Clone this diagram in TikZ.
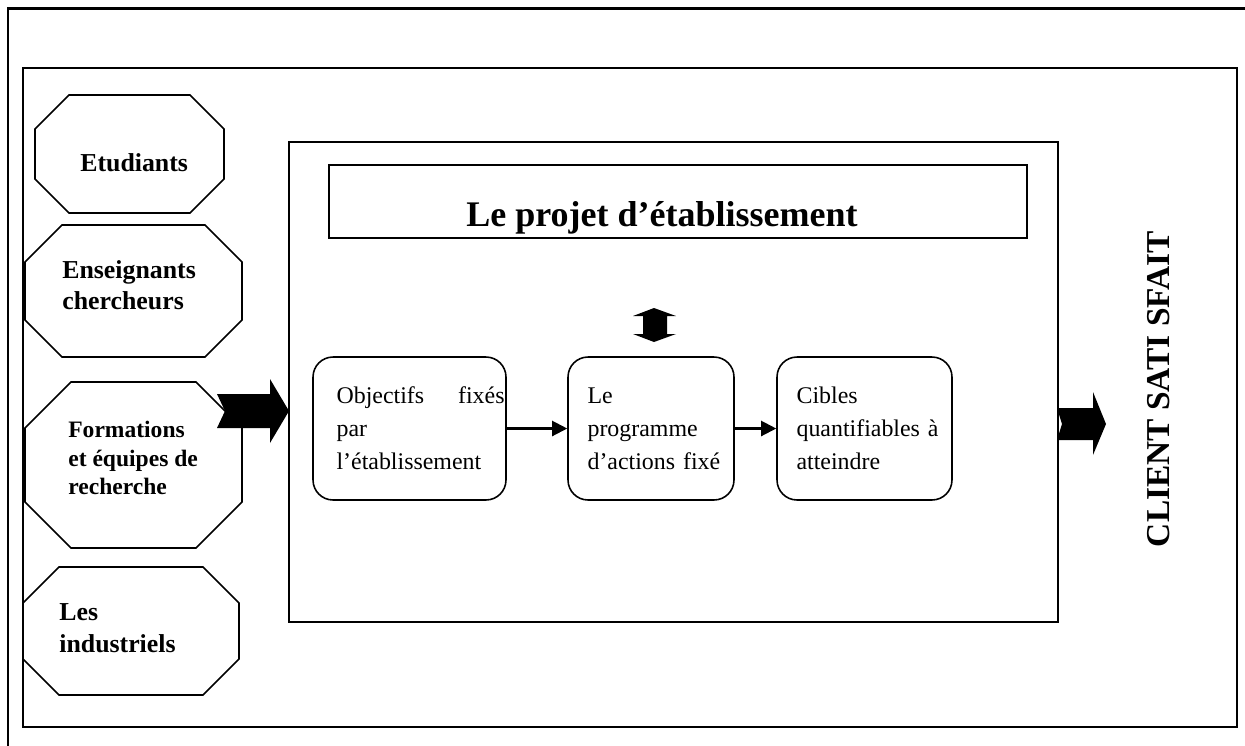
\documentclass[tikz,border=0pt]{standalone}
\usepackage{fontspec}
\setmainfont{Liberation Serif}
\usetikzlibrary{arrows.meta}
\tikzset{
  cadre/.style = {draw, line width=1.1pt, inner sep=0pt},
  octo/.style = {draw, line width=0.9pt},
  acteur/.style = {align=left, inner sep=0pt,
    font=\bfseries\fontsize{14.7}{17.6}\selectfont},% texte des octogones
  etape/.style = {draw, rounded corners=0.4cm, line width=0.9pt,
    minimum height=2.86cm, inner sep=0pt},% boites arrondies
  etape_t/.style = {align=left, inner sep=0pt,
    font=\fontsize{13.6}{18.7}\selectfont},
  grosse/.style = {fill=black}% fleches pleines
}
% octogone : x1, y1, x2, y2, coupe
\newcommand{\octogone}[5]{%
  \draw[octo] (#1+#5,#2) -- (#3-#5,#2) -- (#3,#2+#5) -- (#3,#4-#5)
    -- (#3-#5,#4) -- (#1+#5,#4) -- (#1,#4-#5) -- (#1,#2+#5) -- cycle;}

\begin{document}
\begin{tikzpicture}[x=0.02cm,y=-0.02cm,->,>={Triangle[length=0.3cm,width=0.3cm]}]
    \useasboundingbox (0,0) rectangle (1245,745);
    % cadres
    \draw[-,line width=1.7pt] (1250,8) -- (8,8) -- (8,750);
    \node[cadre, minimum width=24.28cm, minimum height=13.18cm] (page) at (630,397.5) {};
    \node[cadre, minimum width=15.38cm, minimum height=9.6cm] (bloc) at (673.5,382) {};
    \node[cadre, minimum width=13.96cm, minimum height=1.46cm, text height=1cm, text depth=0pt,
      font=\bfseries\fontsize{20.5}{24}\selectfont] (projet) at (678,201.5)
      {\hspace*{-0.64cm}Le projet d’établissement};
    % acteurs
    \octogone{35}{95}{224}{213}{34}
    \octogone{25}{225}{242}{357}{37}
    \octogone{25}{382}{242}{548}{46}
    \octogone{23}{567}{239}{695}{36}
    \node[acteur, anchor=west] (etu) at (80,163) {Etudiants};
    \node[acteur, anchor=west] (ens) at (62,285) {Enseignants\\chercheurs};
    \node[acteur, anchor=west, font=\bfseries\fontsize{13.4}{16.2}\selectfont] (form) at (68,458)
      {Formations\\et équipes de\\recherche};
    \node[acteur, anchor=west, font=\bfseries\fontsize{14.7}{18.4}\selectfont] (ind) at (59,628)
      {Les\\industriels};
    % etapes
    \node[etape, minimum width=3.86cm] (obj) at (409.5,428.5) {};
    \node[etape, minimum width=3.32cm] (prog) at (651,428.5) {};
    \node[etape, minimum width=3.5cm] (cib) at (864.5,428.5) {};
    \node[etape_t, anchor=west, text width=3.36cm] (obj_t) at ([xshift=0.48cm]obj.west)
      {Objectifs\hfill fixés\\par\\l’établissement};
    \node[etape_t, anchor=west, text width=2.9cm] (prog_t) at ([xshift=0.4cm]prog.west)
      {Le\\programme\\d’actions fixé};
    \node[etape_t, anchor=west, text width=3.1cm] (cib_t) at ([xshift=0.4cm]cib.west)
      {Cibles\\quantifiables à\\atteindre};
    \draw[line width=1.2pt] (obj.east) -- (prog.west);
    \draw[line width=1.2pt] (prog.east) -- (cib.west);
    % fleches pleines
    \fill[grosse] (654,308) -- (676,316) -- (667,316) -- (667,334) -- (676,334) -- (654,342)
      -- (633,334) -- (643,334) -- (643,316) -- (633,316) -- cycle;
    \fill[grosse] (217,394) -- (270,394) -- (270,379) -- (289,411) -- (270,443) -- (270,428)
      -- (217,428) -- (225,411) -- cycle;
    \fill[grosse] (1057,408) -- (1093,408) -- (1093,392) -- (1106,424) -- (1093,455)
      -- (1093,440) -- (1057,440) -- (1062,424) -- cycle;
    \node[rotate=90, font=\bfseries\fontsize{19}{22}\selectfont] (client) at (1159,389)
      {CLIENT SATI SFAIT};
\end{tikzpicture}
\end{document}
